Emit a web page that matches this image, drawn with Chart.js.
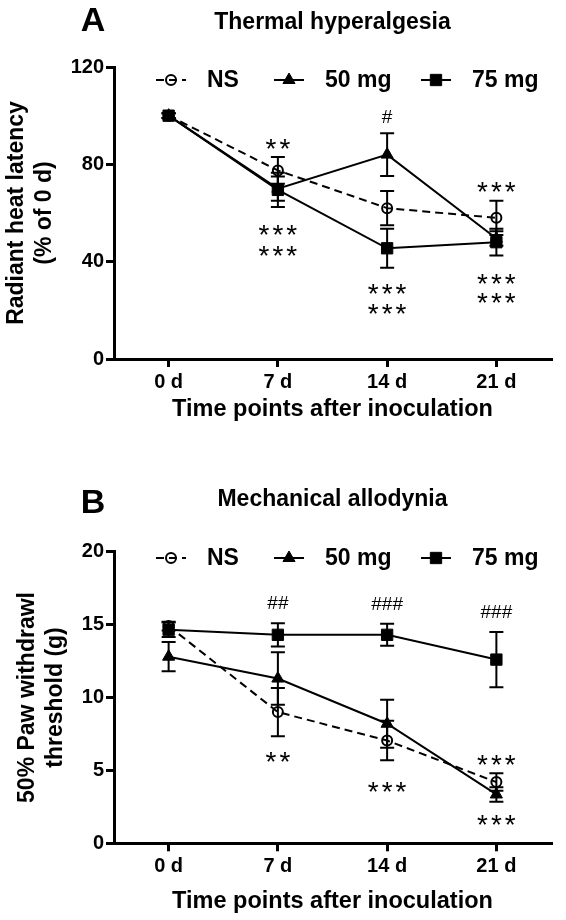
<!DOCTYPE html>
<html>
<head>
<meta charset="utf-8">
<script src="https://cdn.jsdelivr.net/npm/chart.js@4.4.1/dist/chart.umd.min.js"></script>
<style>
  html, body { margin: 0; padding: 0; background: #fff; }
  canvas { display: block; }
</style>
</head>
<body>
<canvas id="thermal" width="566" height="440"></canvas>
<canvas id="mech" width="566" height="480"></canvas>
<script>
// categories
const days = ['0 d', '7 d', '14 d', '21 d'];
const groups = ['NS', '50 mg', '75 mg'];

// A - thermal hyperalgesia (% of 0 d), mean and error
const thermalNS = [100, 77.5, 62, 58];
const thermalNSErr = [1, 5.5, 7, 7];
const thermal50 = [100, 70, 84, 49.5];
const thermal50Err = [1, 5, 8.8, 3];
const thermal75 = [100, 69.5, 45.5, 48];
const thermal75Err = [1, 7, 8, 5.5];
const thermalTicks = [0, 40, 80, 120];
// significance marks: text, day index, value
const thermalMarks = [
  ['**', 1, 89], ['#', 2, 100], ['***', 3, 71.5],
  ['***', 1, 54], ['***', 1, 45.2],
  ['***', 2, 29.6], ['***', 2, 21.4],
  ['***', 3, 33.7], ['***', 3, 25.9]
];

// B - mechanical allodynia, 50% paw withdrawl threshold (g)
const mechNS = [14.9, 9.0, 7.05, 4.2];
const mechNSErr = [0.3, 1.65, 1.35, 0.6];
const mech50 = [12.8, 11.3, 8.2, 3.35];
const mech50Err = [1.0, 1.8, 1.65, 0.5];
const mech75 = [14.65, 14.3, 14.3, 12.6];
const mech75Err = [0.5, 0.8, 0.75, 1.9];
const mechTicks = [0, 5, 10, 15, 20];
const mechMarks = [
  ['##', 1, 16.55], ['###', 2, 16.5], ['###', 3, 15.9],
  ['**', 1, 6.05], ['***', 2, 4.0],
  ['***', 3, 5.85], ['***', 3, 1.74]
];

const FONT = '"Liberation Sans", Arial, sans-serif';
Chart.defaults.font.family = FONT;
Chart.defaults.color = '#000';

function series(ns, nsErr, m50, m50Err, m75, m75Err) {
  return [
    { label: groups[0], data: ns, errors: nsErr, borderColor: '#000', borderWidth: 2,
      borderDash: [8, 5], pointStyle: 'circle', pointRadius: 5, pointBorderWidth: 2,
      pointBorderColor: '#000', pointBackgroundColor: 'rgba(0,0,0,0)' },
    { label: groups[1], data: m50, errors: m50Err, borderColor: '#000', borderWidth: 2,
      pointStyle: 'triangle', pointRadius: 7, pointBorderWidth: 1,
      pointBorderColor: '#000', pointBackgroundColor: '#000' },
    { label: groups[2], data: m75, errors: m75Err, borderColor: '#000', borderWidth: 2,
      pointStyle: 'rect', pointRadius: 8, pointBorderWidth: 1,
      pointBorderColor: '#000', pointBackgroundColor: '#000' }
  ];
}

const errorBars = {
  id: 'errorBars',
  afterDatasetsDraw(chart) {
    const ctx = chart.ctx;
    const y = chart.scales.y;
    chart.data.datasets.forEach((ds, i) => {
      const meta = chart.getDatasetMeta(i);
      ctx.save();
      ctx.strokeStyle = '#000';
      ctx.lineWidth = 2;
      ctx.setLineDash([]);
      meta.data.forEach((pt, j) => {
        const top = y.getPixelForValue(ds.data[j] + ds.errors[j]);
        const bot = y.getPixelForValue(ds.data[j] - ds.errors[j]);
        ctx.beginPath();
        ctx.moveTo(pt.x, top); ctx.lineTo(pt.x, bot);
        ctx.moveTo(pt.x - 7, top); ctx.lineTo(pt.x + 7, top);
        ctx.moveTo(pt.x - 7, bot); ctx.lineTo(pt.x + 7, bot);
        ctx.stroke();
      });
      ctx.restore();
    });
  }
};

// panel letter, inline legend and significance marks
const panelDecor = {
  id: 'panelDecor',
  afterDraw(chart, args, opts) {
    const { ctx, chartArea, scales } = chart;
    ctx.save();
    ctx.fillStyle = '#000';
    ctx.font = 'bold 34px ' + FONT;
    ctx.textAlign = 'center';
    ctx.textBaseline = 'middle';
    ctx.fillText(opts.letter, 93, opts.letterY);

    const offsets = [57, 175, 322];
    chart.data.datasets.forEach((ds, i) => {
      const cx = chartArea.left + offsets[i];
      const cy = opts.legendY;
      ctx.strokeStyle = '#000';
      ctx.lineWidth = 2;
      ctx.setLineDash(ds.borderDash || []);
      ctx.beginPath();
      ctx.moveTo(cx - 15, cy); ctx.lineTo(cx + 15, cy);
      ctx.stroke();
      ctx.setLineDash([]);
      ctx.lineWidth = ds.pointBorderWidth;
      ctx.fillStyle = ds.pointBackgroundColor;
      Chart.helpers.drawPoint(ctx, { pointStyle: ds.pointStyle, radius: ds.pointRadius, borderWidth: ds.pointBorderWidth, rotation: 0 }, cx, cy);
      ctx.fillStyle = '#000';
      ctx.font = 'bold 23px ' + FONT;
      ctx.textAlign = 'left';
      ctx.textBaseline = 'middle';
      ctx.fillText(ds.label, cx + 36, cy + 1);
    });

    ctx.textAlign = 'center';
    ctx.textBaseline = 'alphabetic';
    opts.marks.forEach(([txt, xi, yv]) => {
      const px = scales.x.getPixelForValue(xi);
      const py = scales.y.getPixelForValue(yv);
      if (txt[0] === '#') {
        ctx.font = '19px ' + FONT;
        ctx.letterSpacing = '0px';
        ctx.fillText(txt, px, py + 7);
      } else {
        ctx.font = '28px ' + FONT;
        ctx.letterSpacing = '3px';
        ctx.fillText(txt, px + 1.5, py + 16);
      }
    });
    ctx.restore();
  }
};

function makePanel(id, cfg) {
  return new Chart(document.getElementById(id), {
    type: 'line',
    data: { labels: days, datasets: cfg.datasets },
    plugins: [errorBars, panelDecor],
    options: {
      responsive: false,
      animation: false,
      devicePixelRatio: 1,
      layout: { padding: { left: 0, right: 15, top: 0, bottom: 0 } },
      plugins: {
        legend: { display: false },
        tooltip: { enabled: false },
        title: {
          display: true, text: cfg.title, fullSize: false, color: '#000',
          font: { size: 23, weight: 'bold' },
          padding: cfg.titlePadding
        },
        panelDecor: { letter: cfg.letter, letterY: cfg.letterY, legendY: cfg.legendY, marks: cfg.marks }
      },
      scales: {
        x: {
          type: 'category', offset: true,
          grid: { offset: false, drawOnChartArea: false, tickLength: 8, lineWidth: 3, color: '#000' },
          border: { display: true, width: 3, color: '#000' },
          ticks: { color: '#000', font: { size: 20, weight: 'bold' }, padding: 3, maxRotation: 0 },
          title: {
            display: true, text: 'Time points after inoculation', color: '#000',
            font: { size: 23.5, weight: 'bold' }, padding: { top: 0, bottom: cfg.xTitlePad }
          },
          afterFit: s => { s.height = cfg.xHeight; }
        },
        y: {
          min: cfg.ticks[0], max: cfg.ticks[cfg.ticks.length - 1],
          afterBuildTicks: s => { s.ticks = cfg.ticks.map(v => ({ value: v })); },
          grid: { drawOnChartArea: false, tickLength: 8, lineWidth: 3, color: '#000' },
          border: { display: true, width: 3, color: '#000' },
          ticks: { color: '#000', font: { size: 20, weight: 'bold' }, padding: 2 },
          title: {
            display: true, text: cfg.yTitle, color: '#000',
            font: { size: 23, weight: 'bold', lineHeight: 1.25 }, padding: { top: cfg.yTitlePad, bottom: 0 }
          },
          afterFit: s => { s.width = 114; }
        }
      }
    }
  });
}

makePanel('thermal', {
  title: 'Thermal hyperalgesia', letter: 'A', letterY: 22, legendY: 80,
  titlePadding: { top: 8.7, bottom: 30.7 },
  datasets: series(thermalNS, thermalNSErr, thermal50, thermal50Err, thermal75, thermal75Err),
  ticks: thermalTicks, marks: thermalMarks,
  yTitle: ['Radiant heat latency', '(% of 0 d)'], yTitlePad: 2,
  xHeight: 81, xTitlePad: 15.9
});

makePanel('mech', {
  title: 'Mechanical allodynia', letter: 'B', letterY: 63.5, legendY: 118,
  titlePadding: { top: 46.2, bottom: 37.9 },
  datasets: series(mechNS, mechNSErr, mech50, mech50Err, mech75, mech75Err),
  ticks: mechTicks, marks: mechMarks,
  yTitle: ['50% Paw withdrawl', 'threshold (g)'], yTitlePad: 13,
  xHeight: 76.7, xTitlePad: 4.4
});
</script>
</body>
</html>
